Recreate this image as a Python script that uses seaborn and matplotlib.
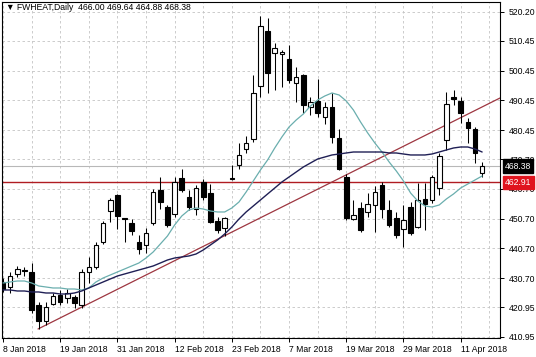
import numpy as np
import pandas as pd
import matplotlib
matplotlib.use("Agg")
import matplotlib.pyplot as plt
import matplotlib.transforms as mtransforms
import seaborn as sns

# ---------------- data ----------------
opens = [429.44, 427.76, 432.13, 433.47, 432.80, 421.71, 416.33, 422.04, 425.07, 424.06,
         424.40, 421.71, 432.80, 434.48, 442.88, 453.30, 458.68, 450.95, 449.27, 442.88,
         441.87, 449.27, 460.36, 454.65, 452.29, 464.39, 458.01, 453.97, 463.05, 459.35,
         449.94, 447.59, 464.39, 468.76, 474.14, 477.50, 495.32, 513.81, 506.41, 506.07,
         504.39, 496.33, 499.02, 488.26, 490.28, 484.90, 488.26, 477.84, 464.73, 450.61,
         454.31, 452.97, 455.32, 462.04, 453.64, 450.95, 447.25, 454.65, 447.92, 457.34,
         457.00, 461.03, 477.17, 491.62, 490.28, 483.22, 480.87, 466.00]
highs = [430.78, 432.80, 434.82, 434.48, 435.82, 422.71, 422.71, 425.74, 426.75, 427.08,
         425.07, 433.81, 437.84, 442.88, 449.94, 457.67, 459.02, 451.00, 450.61, 445.24,
         447.59, 460.70, 464.73, 455.32, 464.73, 467.42, 460.36, 462.04, 464.06, 462.38,
         451.29, 451.29, 468.76, 476.16, 478.51, 499.02, 518.85, 518.18, 509.77, 507.42,
         509.10, 501.71, 499.30, 491.62, 497.67, 489.94, 492.97, 480.87, 465.74, 457.00,
         456.33, 459.35, 461.71, 463.05, 457.00, 452.97, 455.32, 456.33, 462.71, 462.71,
         465.40, 472.80, 493.30, 493.97, 491.62, 484.56, 481.54, 469.64]
lows = [426.08, 425.74, 431.12, 431.45, 419.02, 413.64, 414.98, 421.71, 421.71, 422.38,
        420.70, 420.70, 429.10, 433.81, 442.21, 449.60, 447.25, 442.88, 445.24, 438.85,
        439.18, 448.60, 453.97, 447.92, 451.29, 459.69, 453.64, 451.96, 457.00, 449.27,
        445.91, 444.90, 463.72, 467.42, 472.80, 476.50, 491.62, 492.97, 493.97, 494.98,
        496.33, 489.94, 486.24, 485.57, 484.90, 482.55, 476.16, 467.08, 450.28, 450.28,
        446.24, 451.29, 446.24, 450.95, 447.92, 444.23, 441.20, 445.24, 447.59, 446.92,
        455.99, 458.68, 473.81, 488.93, 482.88, 476.16, 469.44, 464.88]
closes = [427.08, 431.45, 433.81, 433.13, 420.03, 416.33, 421.03, 424.73, 422.71, 425.74,
          422.38, 432.80, 434.48, 441.87, 449.27, 457.00, 451.62, 450.61, 446.58, 440.53,
          445.91, 459.69, 456.33, 448.60, 463.05, 460.36, 454.65, 461.03, 458.01, 449.60,
          446.92, 450.95, 464.06, 472.13, 476.16, 492.97, 515.49, 499.69, 508.09, 506.75,
          497.34, 498.34, 488.93, 489.94, 486.24, 488.26, 478.18, 467.42, 450.95, 451.96,
          446.92, 455.66, 459.69, 453.97, 448.60, 445.24, 450.28, 445.91, 457.00, 455.66,
          464.73, 471.79, 489.27, 490.95, 486.24, 481.20, 472.80, 468.38]

ma_fast = [429.10, 429.44, 429.77, 429.77, 429.10, 428.09, 427.76, 427.42, 427.42, 427.08,
           427.08, 426.75, 427.42, 429.44, 430.78, 431.79, 432.80, 433.81, 434.82, 435.82,
           437.50, 439.52, 442.21, 444.90, 448.60, 451.62, 453.64, 454.31, 453.97, 453.30,
           452.97, 452.97, 454.31, 456.33, 459.69, 463.39, 467.08, 470.44, 474.48, 478.18,
           481.54, 483.89, 485.91, 488.60, 490.61, 491.96, 492.97, 492.29, 490.28, 487.25,
           483.22, 479.52, 476.16, 473.13, 469.77, 466.75, 463.39, 459.35, 456.66, 454.98,
           454.65, 455.32, 457.34, 459.02, 461.03, 462.38, 463.72, 465.07]
ma_slow = [426.75, 426.75, 426.41, 426.41, 426.08, 426.08, 425.74, 425.74, 425.40, 425.40,
           425.74, 426.41, 427.42, 428.43, 429.44, 430.45, 431.45, 432.13, 432.80, 433.47,
           434.14, 434.82, 435.82, 436.83, 437.50, 437.84, 438.18, 438.85, 440.19, 441.87,
           443.55, 445.57, 447.92, 450.61, 452.97, 454.98, 457.00, 459.02, 461.03, 463.05,
           464.73, 466.41, 468.09, 469.44, 470.78, 471.45, 472.13, 472.46, 472.80, 473.13,
           473.13, 473.13, 473.13, 473.13, 472.80, 472.80, 472.46, 472.13, 472.13, 472.13,
           472.46, 473.13, 473.81, 474.48, 474.81, 474.81, 474.14, 473.13]

trend_bars = [4.9, 69.5]
trend_prices = [413.64, 491.28]

last_price = 468.38
level_price = 462.91

date_labels = ["8 Jan 2018", "19 Jan 2018", "31 Jan 2018", "12 Feb 2018", "23 Feb 2018",
               "7 Mar 2018", "19 Mar 2018", "29 Mar 2018", "11 Apr 2018"]
price_ticks = [410.95, 420.95, 430.70, 440.70, 450.70, 460.70, 470.70,
               480.45, 490.45, 500.45, 510.45, 520.20]
title = "\u25BC FWHEAT,Daily  466.00 469.64 464.88 468.38"

# ---------------- figure ----------------
sns.set_theme(style="white")
plt.rcParams["font.family"] = ["Liberation Sans", "DejaVu Sans"]

W, H = 536, 357
FS = 6.2
fig = plt.figure(figsize=(W / 100, H / 100), dpi=100)
fig.patch.set_facecolor("white")
ax = fig.add_axes([2 / W, 1 - 338 / H, 498 / W, 336 / H])
ax.set_facecolor("white")

o = np.array(opens); h = np.array(highs); l = np.array(lows); c = np.array(closes)
bars = np.arange(len(o))
df = pd.DataFrame({"bar": bars, "open": o, "high": h, "low": l, "close": c,
                   "fast": ma_fast, "slow": ma_slow})

# grid
ax.set_xticks(np.arange(0, 70, 8))
ax.set_xticks(np.arange(0, 70, 4), minor=True)
ax.set_yticks(price_ticks)
ax.grid(True, which="both", axis="x", color="#c4c4c4", lw=0.6, ls=(0, (3, 3)), zorder=0)
ax.grid(True, which="major", axis="y", color="#c4c4c4", lw=0.6, ls=(0, (3, 3)), zorder=0)
ax.set_axisbelow(True)

# horizontal levels
ax.axhline(last_price, color="#b8b8b8", lw=0.8, zorder=1)
ax.axhline(level_price, color="#b01c22", lw=1.0, zorder=1)

# trend line
ax.plot(trend_bars, trend_prices, color="#9e3640", lw=0.9, zorder=2)

# candles
ax.vlines(df["bar"], df["low"], df["high"], colors="black", lw=0.75, zorder=3)
bull = df[df["close"] >= df["open"]]
bear = df[df["close"] < df["open"]]
ax.bar(bull["bar"], bull["close"] - bull["open"], bottom=bull["open"], width=0.64,
       color="white", edgecolor="black", lw=0.8, zorder=4)
ax.bar(bear["bar"], bear["open"] - bear["close"], bottom=bear["close"], width=0.64,
       color="black", edgecolor="black", lw=0.8, zorder=4)

# moving averages
sns.lineplot(data=df, x="bar", y="fast", color="#6aaeae", lw=0.9, ax=ax, zorder=5)
sns.lineplot(data=df, x="bar", y="slow", color="#1f1f55", lw=1.0, ax=ax, zorder=5)

ax.set_xlim(-0.14, 69.5)
ax.set_ylim(410.61, 523.55)
ax.set_xlabel("")
ax.set_ylabel("")

ax.set_xticklabels(date_labels)
for lab in ax.get_xticklabels():
    lab.set_ha("left")
ax.yaxis.tick_right()
ax.set_yticklabels([f"{v:.2f}" for v in price_ticks])
ax.tick_params(axis="x", which="major", length=3, width=0.7, color="black",
               labelsize=FS, pad=2, labelcolor="black", bottom=True)
ax.tick_params(axis="x", which="minor", length=0)
ax.tick_params(axis="y", length=3, width=0.7, color="black", labelsize=FS, pad=3,
               labelcolor="black", right=True, left=False)

for s in ax.spines.values():
    s.set_color("black")
    s.set_linewidth(0.8)

# price boxes on the right axis
trans = mtransforms.blended_transform_factory(ax.transAxes, ax.transData)
ax.text(1.010, last_price, f"{last_price:.2f}", transform=trans, color="white",
        fontsize=FS, va="center", ha="left", clip_on=False, zorder=10,
        bbox=dict(boxstyle="square,pad=0.25", fc="black", ec="black"))
ax.text(1.010, level_price, f"{level_price:.2f}", transform=trans, color="white",
        fontsize=FS, va="center", ha="left", clip_on=False, zorder=10,
        bbox=dict(boxstyle="square,pad=0.25", fc="#e0141e", ec="#e0141e"))

fig.text(6 / W, 1 - 8 / H, title, fontsize=FS, va="center", ha="left", color="black")

fig.savefig("out.png", dpi=100, facecolor="white")
